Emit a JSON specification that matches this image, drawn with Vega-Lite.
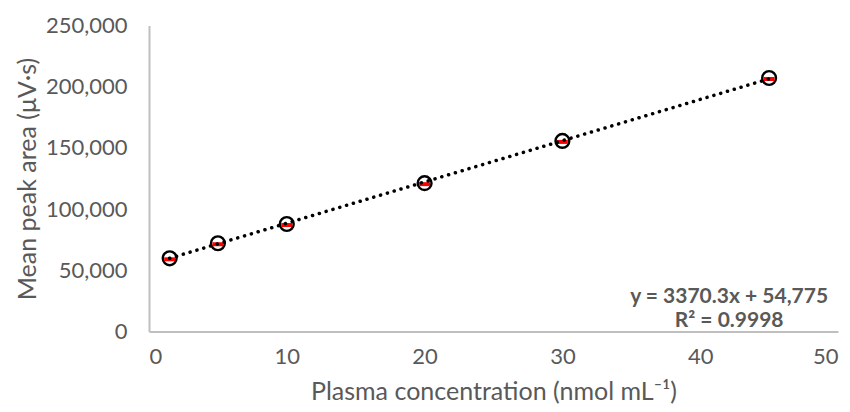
{
  "$schema": "https://vega.github.io/schema/vega-lite/v6.json",
  "width": 689,
  "height": 306,
  "autosize": {"type": "none"},
  "padding": {"left": 149, "top": 25.5, "right": 12, "bottom": 80.5},
  "background": "white",
  "config": {
    "view": {"stroke": null},
    "font": "Lato",
    "axis": {
      "grid": false,
      "ticks": false,
      "domainColor": "#BFBFBF",
      "domainWidth": 2,
      "labelColor": "#595959",
      "titleColor": "#595959",
      "labelFont": "Lato",
      "titleFont": "Lato",
      "labelFontSize": 22,
      "titleFontSize": 25,
      "titleFontWeight": "normal"
    }
  },
  "datasets": {
    "points": [
      {"conc": 1.5, "area": 59800},
      {"conc": 5, "area": 72100},
      {"conc": 10, "area": 87800},
      {"conc": 20, "area": 121200},
      {"conc": 30, "area": 155700},
      {"conc": 45, "area": 207100}
    ],
    "trend": [
      {"conc": 1.5, "area": 59830},
      {"conc": 45, "area": 206439}
    ],
    "equation": [
      {"label": "y = 3370.3x + 54,775", "line": 1},
      {"label": "R² = 0.9998", "line": 2}
    ]
  },
  "layer": [
    {
      "data": {"name": "points"},
      "mark": {"type": "point", "shape": "circle", "filled": false, "stroke": "black", "strokeWidth": 2.4, "size": 190, "opacity": 1},
      "encoding": {
        "x": {
          "field": "conc", "type": "quantitative",
          "scale": {"domain": [0, 50], "nice": false},
          "axis": {"values": [0, 10, 20, 30, 40, 50], "labelPadding": 15, "titlePadding": 12, "title": "Plasma concentration (nmol mL⁻¹)"}
        },
        "y": {
          "field": "area", "type": "quantitative",
          "scale": {"domain": [0, 250000], "nice": false},
          "axis": {"values": [0, 50000, 100000, 150000, 200000, 250000], "format": ",.0f", "labelPadding": 22, "titlePadding": 5, "title": "Mean peak area (μV·s)"}
        }
      }
    },
    {
      "data": {"name": "points"},
      "mark": {"type": "tick", "orient": "horizontal", "color": "#FF0000", "size": 11, "thickness": 4, "opacity": 1, "yOffset": 1},
      "encoding": {
        "x": {"field": "conc", "type": "quantitative"},
        "y": {"field": "area", "type": "quantitative"}
      }
    },
    {
      "data": {"name": "trend"},
      "mark": {"type": "line", "color": "black", "strokeWidth": 3.5, "strokeDash": [0.1, 7], "strokeCap": "round"},
      "encoding": {
        "x": {"field": "conc", "type": "quantitative"},
        "y": {"field": "area", "type": "quantitative"}
      }
    },
    {
      "data": {"name": "equation"},
      "transform": [{"filter": "datum.line == 1"}],
      "mark": {"type": "text", "align": "center", "baseline": "middle", "fontWeight": "bold", "fontSize": 21, "color": "#595959", "font": "Lato"},
      "encoding": {
        "x": {"datum": 42.1, "type": "quantitative"},
        "y": {"datum": 28200, "type": "quantitative"},
        "text": {"field": "label", "type": "nominal"}
      }
    },
    {
      "data": {"name": "equation"},
      "transform": [{"filter": "datum.line == 2"}],
      "mark": {"type": "text", "align": "center", "baseline": "middle", "fontWeight": "bold", "fontSize": 21, "color": "#595959", "font": "Lato"},
      "encoding": {
        "x": {"datum": 42.1, "type": "quantitative"},
        "y": {"datum": 8600, "type": "quantitative"},
        "text": {"field": "label", "type": "nominal"}
      }
    }
  ]
}
